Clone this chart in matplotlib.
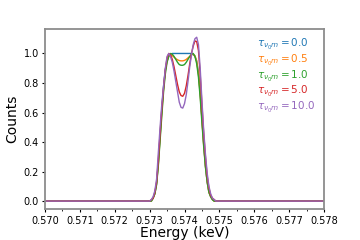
import matplotlib
matplotlib.use("Agg")
import matplotlib.pyplot as plt
import numpy as np

# Energie-as (keV) rond de piek
energy = [0.57000,
          0.57300, 0.57305, 0.57310, 0.57315, 0.57320, 0.57325, 0.57330, 0.57335,
          0.57340, 0.57345, 0.57350, 0.57355, 0.57360, 0.57365, 0.57370, 0.57375,
          0.57380, 0.57385, 0.57390, 0.57395, 0.57400, 0.57405, 0.57410, 0.57415,
          0.57420, 0.57425, 0.57430, 0.57435, 0.57440, 0.57445, 0.57450, 0.57455,
          0.57460, 0.57465, 0.57470, 0.57475, 0.57480, 0.57485, 0.57490, 0.57495,
          0.57500,
          0.57800]

tau_labels = ["0.0", "0.5", "1.0", "5.0", "10.0"]

counts_tau0 = [0.0,
               0.00, 0.00, 0.02, 0.05, 0.12, 0.26, 0.44, 0.62,
               0.78, 0.89, 0.95, 0.985, 0.995, 1.00, 1.00, 1.00,
               1.00, 1.00, 1.00, 1.00, 1.00, 1.00, 1.00, 1.00,
               1.00, 0.995, 0.98, 0.95, 0.87, 0.74, 0.56, 0.39,
               0.24, 0.13, 0.06, 0.03, 0.01, 0.00, 0.00, 0.00,
               0.00,
               0.0]
counts_tau05 = [0.0,
                0.00, 0.00, 0.02, 0.05, 0.12, 0.25, 0.43, 0.60,
                0.76, 0.88, 0.95, 0.985, 0.99, 0.985, 0.975, 0.965,
                0.957, 0.952, 0.95, 0.95, 0.953, 0.96, 0.97, 0.98,
                0.99, 0.995, 0.985, 0.945, 0.86, 0.72, 0.55, 0.38,
                0.24, 0.13, 0.06, 0.03, 0.01, 0.00, 0.00, 0.00,
                0.00,
                0.0]
counts_tau1 = [0.0,
               0.00, 0.00, 0.02, 0.05, 0.11, 0.24, 0.41, 0.58,
               0.74, 0.86, 0.94, 0.98, 1.00, 0.995, 0.98, 0.96,
               0.94, 0.925, 0.92, 0.92, 0.925, 0.94, 0.96, 0.98,
               0.995, 1.00, 0.98, 0.93, 0.84, 0.70, 0.53, 0.37,
               0.23, 0.13, 0.06, 0.03, 0.01, 0.00, 0.00, 0.00,
               0.00,
               0.0]
counts_tau5 = [0.0,
               0.00, 0.01, 0.02, 0.06, 0.13, 0.28, 0.46, 0.63,
               0.77, 0.89, 0.97, 1.00, 0.99, 0.96, 0.91, 0.85,
               0.79, 0.74, 0.715, 0.71, 0.73, 0.78, 0.85, 0.93,
               1.00, 1.05, 1.085, 1.08, 1.02, 0.86, 0.65, 0.46,
               0.30, 0.17, 0.09, 0.04, 0.02, 0.01, 0.00, 0.00,
               0.00,
               0.0]
counts_tau10 = [0.0,
                0.00, 0.01, 0.03, 0.07, 0.15, 0.33, 0.50, 0.66,
                0.78, 0.90, 0.98, 1.00, 0.98, 0.94, 0.88, 0.81,
                0.74, 0.67, 0.635, 0.63, 0.66, 0.72, 0.81, 0.91,
                0.99, 1.06, 1.10, 1.11, 1.06, 0.90, 0.68, 0.48,
                0.32, 0.19, 0.10, 0.05, 0.02, 0.01, 0.00, 0.00,
                0.00,
                0.0]

series = [counts_tau0, counts_tau05, counts_tau1, counts_tau5, counts_tau10]
colors = ["tab:blue", "tab:orange", "tab:green", "tab:red", "tab:purple"]

fig = plt.figure(figsize=(3.6, 2.4), dpi=100)
ax = fig.add_axes([0.125, 0.128, 0.775, 0.751])

for y, lab, c in zip(series, tau_labels, colors):
    ax.plot(energy, y, color=c, lw=1.0, label=r"$\tau_{\nu_0 m} = $" + lab)

xt = np.arange(0.570, 0.5785, 0.001)
ax.set_xlim(0.570, 0.578)
ax.set_xticks(xt)
ax.set_xticklabels([f"{v:.3f}" for v in xt])
ax.set_xticks(np.arange(0.5705, 0.578, 0.001), minor=True)
ax.set_yticks([0.0, 0.2, 0.4, 0.6, 0.8, 1.0])
ax.tick_params(which="both", direction="out", labelsize=7, pad=2)
ax.tick_params(which="major", length=2.5, width=0.8)
ax.tick_params(which="minor", length=1.5, width=0.6)
for s in ax.spines.values():
    s.set_color("0.55")
    s.set_linewidth(1.3)

ax.set_xlabel("Energy (keV)", fontsize=10, labelpad=0)
ax.set_ylabel("Counts", fontsize=10, labelpad=3)

leg = ax.legend(loc="upper right", frameon=False, handlelength=0, handletextpad=0,
                labelcolor="linecolor", fontsize=7.5, borderaxespad=0.4,
                labelspacing=0.05)
for h in leg.legend_handles:
    h.set_visible(False)

fig.savefig("out.png", dpi=100)
